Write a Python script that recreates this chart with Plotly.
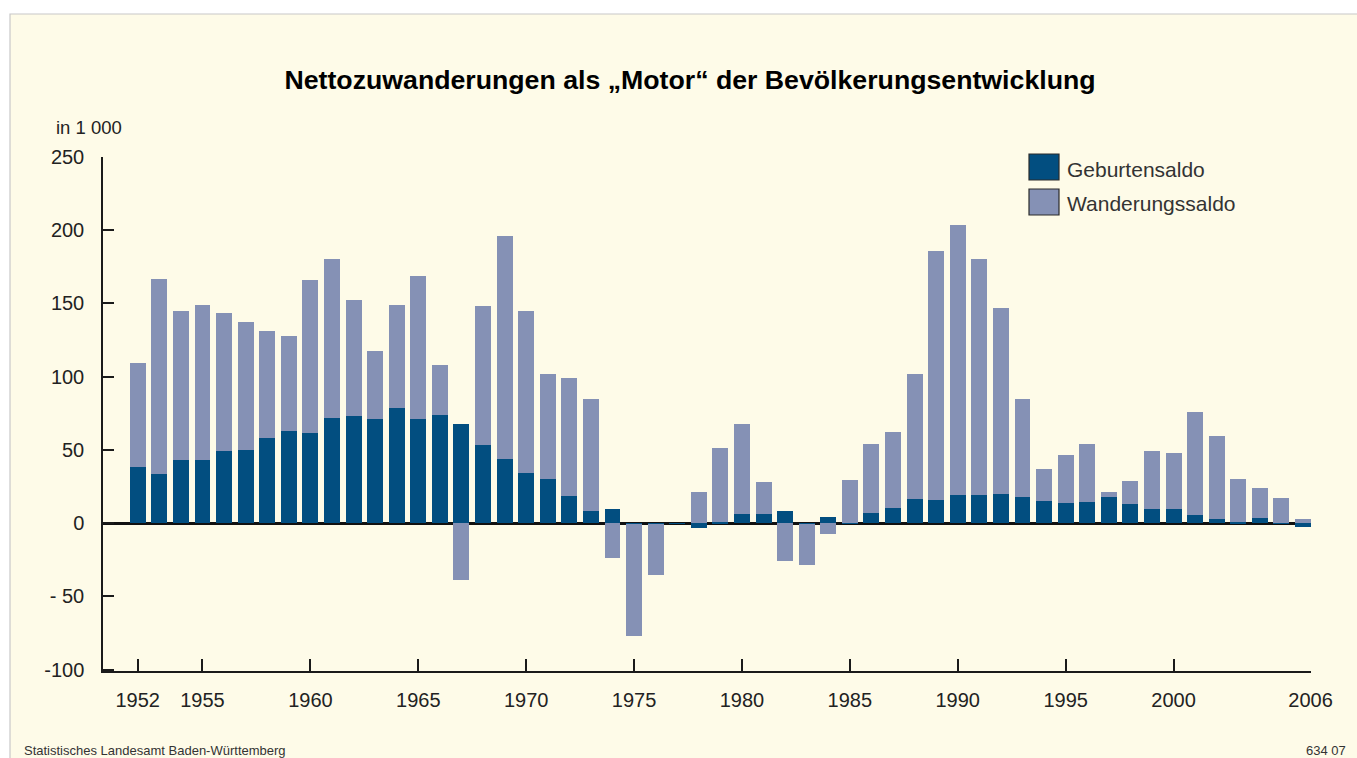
import plotly.graph_objects as go

years = list(range(1952, 2007))

geburtensaldo = [
    38.6, 33.8, 43.4, 43.4, 49.5, 50.2, 58.4, 63.2, 61.8, 72.1,   # 1952-1961
    72.8, 71.4, 78.3, 71.4, 73.5, 68.0, 53.6, 44.0, 34.5, 30.4,   # 1962-1971
    18.7, 8.4, 9.8, -0.5, -0.5, -0.5, -3.6, 0.5, 5.9, 5.9,        # 1972-1981
    8.0, -0.5, 4.5, 0.3, 7.0, 10.4, 16.6, 15.9, 19.3, 19.3,       # 1982-1991
    20.0, 18.0, 15.3, 13.9, 14.6, 18.0, 13.2, 9.8, 9.8, 5.7,      # 1992-2001
    2.9, 0.5, 3.6, 0.3, -2.5                                      # 2002-2006
]

wanderungssaldo = [
    70.5, 132.8, 101.3, 105.4, 93.9, 87.0, 72.6, 64.4, 104.1, 108.2,   # 1952-1961
    79.5, 45.9, 70.5, 97.2, 34.4, -38.8, 94.5, 152.1, 110.2, 71.2,     # 1962-1971
    80.1, 76.1, -23.7, -76.3, -35.2, 0.0, 20.9, 51.1, 62.1, 22.4,      # 1972-1981
    -25.6, -27.8, -7.3, 29.3, 47.3, 52.1, 85.0, 169.9, 184.3, 161.0,   # 1982-1991
    126.8, 66.5, 21.9, 32.9, 39.7, 3.4, 15.8, 39.7, 38.3, 69.9,        # 1992-2001
    56.9, 29.9, 20.6, 17.0, 2.9                                        # 2002-2006
]

series_names = ["Geburtensaldo", "Wanderungssaldo"]
tick_years = [1952, 1955, 1960, 1965, 1970, 1975, 1980, 1985, 1990, 1995, 2000, 2006]
y_ticks = [-100, -50, 0, 50, 100, 150, 200, 250]
y_tick_text = ["-100", "- 50", "0", "50", "100", "150", "200", "250"]

title_text = "Nettozuwanderungen als \u201eMotor\u201c der Bev\u00f6lkerungsentwicklung"
unit_text = "in 1 000"
source_text = "Statistisches Landesamt Baden-W\u00fcrttemberg"
code_text = "634 07"

DARK = "#024E80"
LIGHT = "#8591B5"
CREAM = "#FEFBE8"
AXIS = "#1a1a1a"
FONT = "Liberation Sans, Arial, Helvetica, sans-serif"

# figure fills the whole page (body margin removed below)
OFF = 0
W, H = 1357 - OFF, 758 - OFF
ML, MT = 103 - OFF, 157 - OFF
MR = W - (1311 - OFF)
MB = H - (671 - OFF)
PW = W - ML - MR
PH = H - MT - MB

X_RANGE = [1950.39, 2006.37]
Y_RANGE = [-101, 250]


def px_x(p):
    """page pixel x -> paper coordinate"""
    return (p - OFF - ML) / PW


def px_y(p):
    """page pixel y -> paper coordinate"""
    return (H - MB - (p - OFF)) / PH


fig = go.Figure()
fig.add_trace(go.Bar(x=years, y=geburtensaldo, name=series_names[0],
                     marker=dict(color=DARK, line=dict(width=0)), width=0.74))
fig.add_trace(go.Bar(x=years, y=wanderungssaldo, name=series_names[1],
                     marker=dict(color=LIGHT, line=dict(width=0)), width=0.74))

# tick positions: last label sits at the end of the axis line
tickvals = tick_years[:-1] + [X_RANGE[1] - 0.02]

shapes = [
    # cream panel with grey frame
    dict(type="rect", xref="paper", yref="paper",
         x0=px_x(10), x1=px_x(1357 + 5), y0=px_y(758 + 5), y1=px_y(14),
         fillcolor=CREAM, line=dict(color="#c8c8c8", width=1.2), layer="below"),
    # legend swatches
    dict(type="rect", xref="paper", yref="paper",
         x0=px_x(1029), x1=px_x(1059), y0=px_y(180), y1=px_y(154),
         fillcolor=DARK, line=dict(color="#2a2a2a", width=1.2)),
    dict(type="rect", xref="paper", yref="paper",
         x0=px_x(1029), x1=px_x(1059), y0=px_y(215), y1=px_y(189),
         fillcolor=LIGHT, line=dict(color="#2a2a2a", width=1.2)),
]

annotations = [
    dict(text=unit_text, xref="paper", yref="paper", x=px_x(54), y=px_y(128),
         xanchor="left", yanchor="middle", showarrow=False,
         font=dict(family=FONT, size=18.5, color="#222")),
    dict(text=series_names[0], xref="paper", yref="paper", x=px_x(1065), y=px_y(169),
         xanchor="left", yanchor="middle", showarrow=False,
         font=dict(family=FONT, size=21, color="#333")),
    dict(text=series_names[1], xref="paper", yref="paper", x=px_x(1065), y=px_y(203),
         xanchor="left", yanchor="middle", showarrow=False,
         font=dict(family=FONT, size=21, color="#333")),
    dict(text=source_text, xref="paper", yref="paper", x=px_x(22), y=px_y(750),
         xanchor="left", yanchor="middle", showarrow=False,
         font=dict(family=FONT, size=13, color="#333")),
    dict(text=code_text, xref="paper", yref="paper", x=px_x(1348), y=px_y(750),
         xanchor="right", yanchor="middle", showarrow=False,
         font=dict(family=FONT, size=13, color="#333")),
]

fig.update_layout(
    width=W, height=H,
    margin=dict(l=ML, r=MR, t=MT, b=MB, pad=0),
    paper_bgcolor="white",
    plot_bgcolor="rgba(0,0,0,0)",
    barmode="relative",
    bargap=0,
    showlegend=False,
    title=dict(text="<b>" + title_text + "</b>", xref="container", yref="container",
               x=(690 - OFF) / W, y=1 - (80 - OFF) / H, xanchor="center", yanchor="middle",
               font=dict(family=FONT, size=26.7, color="#000")),
    xaxis=dict(range=X_RANGE, showgrid=False, zeroline=False,
               showline=True, linecolor=AXIS, linewidth=2,
               ticks="inside", ticklen=12, tickwidth=1.5, tickcolor=AXIS,
               tickmode="array", tickvals=tickvals, ticktext=[str(t) for t in tick_years],
               ticklabelstandoff=10,
               tickfont=dict(family=FONT, size=20, color="#222")),
    yaxis=dict(range=Y_RANGE, showgrid=False,
               zeroline=True, zerolinecolor="#111", zerolinewidth=2.5,
               showline=True, linecolor=AXIS, linewidth=1.5,
               ticks="inside", ticklen=11, tickwidth=1.5, tickcolor=AXIS,
               tickmode="array", tickvals=y_ticks, ticktext=y_tick_text,
               ticklabelstandoff=13,
               tickfont=dict(family=FONT, size=20, color="#222")),
    shapes=shapes,
    annotations=annotations,
)

# remove the default page margin so the figure fills the window exactly
fig.write_html("out.html",
               config={"displayModeBar": False},
               post_script="document.body.style.margin='0';"
                           "document.documentElement.style.overflow='hidden';")
